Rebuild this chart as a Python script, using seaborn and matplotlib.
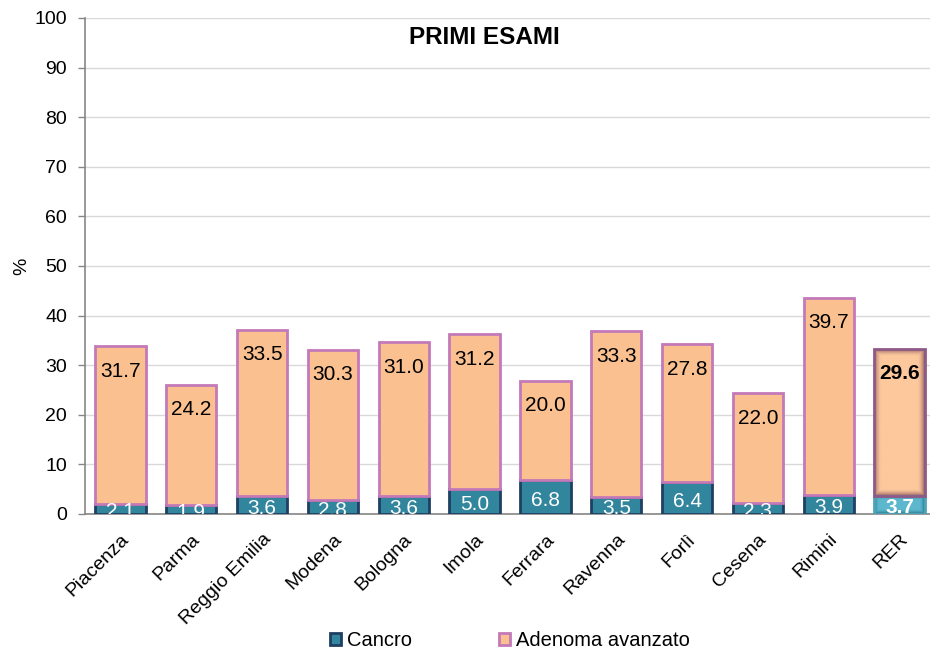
import matplotlib.pyplot as plt
import numpy as np
import pandas as pd
import seaborn as sns
from matplotlib.colors import LinearSegmentedColormap
from matplotlib.patches import Patch

# Data (% per area, first exams)
asl = ["Piacenza", "Parma", "Reggio Emilia", "Modena", "Bologna", "Imola",
       "Ferrara", "Ravenna", "Forlì", "Cesena", "Rimini", "RER"]
cancro = [2.1, 1.9, 3.6, 2.8, 3.6, 5.0, 6.8, 3.5, 6.4, 2.3, 3.9, 3.7]
adenoma = [31.7, 24.2, 33.5, 30.3, 31.0, 31.2, 20.0, 33.3, 27.8, 22.0, 39.7, 29.6]
y_ticks = list(range(0, 101, 10))

CANCRO_FILL = "#31859C"
CANCRO_EDGE = "#1F3F63"
ADENOMA_FILL = "#FAC090"
ADENOMA_EDGE = "#C479B8"
AXIS_GREY = "#868686"
GRID_GREY = "#D9D9D9"

df = pd.DataFrame({"asl": asl, "cancro": cancro, "adenoma": adenoma})

sns.set_style("white")
plt.rcParams["font.family"] = ["Liberation Sans", "DejaVu Sans"]
plt.rcParams["text.color"] = "black"
plt.rcParams["axes.labelcolor"] = "black"

fig = plt.figure(figsize=(9.3, 6.52), dpi=100)
ax = fig.add_axes([0.0914, 0.2117, 0.914, 0.7607])

bar_w = 0.71
sns.barplot(data=df, x="asl", y="cancro", color=CANCRO_FILL, saturation=1,
            edgecolor=CANCRO_EDGE, linewidth=2, width=bar_w, errorbar=None,
            ax=ax, zorder=3)
sns.barplot(data=df, x="asl", y="adenoma", bottom=df["cancro"].to_numpy(),
            color=ADENOMA_FILL, saturation=1, edgecolor=ADENOMA_EDGE,
            linewidth=2, width=bar_w, errorbar=None, ax=ax, zorder=3)

n = len(asl)
patches = ax.patches
rer_c = patches[n - 1]
rer_a = patches[2 * n - 1]


def bevel(patch, base, dark, edge, rim=7.0):
    # darker rim inside the bar, like the 3D effect on the RER bar
    x0, y0 = patch.get_x(), patch.get_y()
    w, h = patch.get_width(), patch.get_height()
    nx, ny = 50, max(int(h * 5), 10)
    px = np.linspace(0, 50, nx)
    py = np.linspace(0, h * 4.96, ny)
    PX, PY = np.meshgrid(px, py)
    d = np.minimum.reduce([PX, 50 - PX, PY, py[-1] - PY])
    shade = np.clip(1 - d / rim, 0, 1) ** 1.8
    cmap = LinearSegmentedColormap.from_list("bev", [base, dark])
    im = ax.imshow(shade, cmap=cmap, vmin=0, vmax=1, origin="lower",
                   extent=(x0, x0 + w, y0, y0 + h), aspect="auto",
                   zorder=3.5, interpolation="bilinear")
    im.set_clip_path(patch)
    patch.set_edgecolor(edge)
    patch.set_linewidth(2)
    patch.set_zorder(3.6)
    patch.set_facecolor("none")


bevel(rer_a, "#FCC89C", "#9A6466", "#8E5A86")
bevel(rer_c, "#5DB8CE", "#2A7C92", "#4FA3B8", rim=5.0)

# value labels
for i, (c, a) in enumerate(zip(cancro, adenoma)):
    bold = "bold" if asl[i] == "RER" else "normal"
    ax.text(i, c / 2 - 0.6, f"{c:.1f}", ha="center", va="center",
            color="white", fontsize=15, fontweight=bold, zorder=6,
            clip_on=True)
    ax.text(i, c + a - 5.0, f"{a:.1f}", ha="center", va="center",
            color="black", fontsize=15, fontweight=bold, zorder=6)

ax.set_ylim(0, 100)
ax.set_xlim(-0.5, n - 0.5)
ax.set_yticks(y_ticks)
ax.set_xticks(range(n))
ax.set_xticklabels(asl, rotation=45, ha="right", rotation_mode="anchor",
                   fontsize=14)
ax.set_xticks(np.arange(-0.5, n, 1), minor=True)
ax.tick_params(axis="x", which="major", length=0, pad=12, labelcolor="black")
ax.tick_params(axis="x", which="minor", length=5, color=AXIS_GREY, width=1)
ax.tick_params(axis="y", length=5, color=AXIS_GREY, width=1, labelsize=14,
               left=True, pad=8, labelcolor="black")
ax.yaxis.grid(True, color=GRID_GREY, linewidth=1)
ax.set_axisbelow(True)
for s in ["top", "right"]:
    ax.spines[s].set_visible(False)
for s in ["left", "bottom"]:
    ax.spines[s].set_color(AXIS_GREY)
    ax.spines[s].set_linewidth(1.2)

ax.set_xlabel("")
ax.set_ylabel("%", fontsize=14)
ax.yaxis.set_label_coords(-0.064, 0.5)
ax.text(0.47, 96, "PRIMI ESAMI", ha="center", va="center", fontsize=17.5,
        fontweight="bold", transform=ax.get_yaxis_transform())

handles = [Patch(facecolor=CANCRO_FILL, edgecolor=CANCRO_EDGE, linewidth=2),
           Patch(facecolor=ADENOMA_FILL, edgecolor=ADENOMA_EDGE, linewidth=2)]
fig.legend(handles, ["Cancro", "Adenoma avanzato"], loc="center",
           bbox_to_anchor=(0.548, 0.018), ncol=2, frameon=False,
           fontsize=14.5, handlelength=0.55, handleheight=0.55,
           handletextpad=0.3, columnspacing=4.3)

fig.savefig("out.png", dpi=100)
